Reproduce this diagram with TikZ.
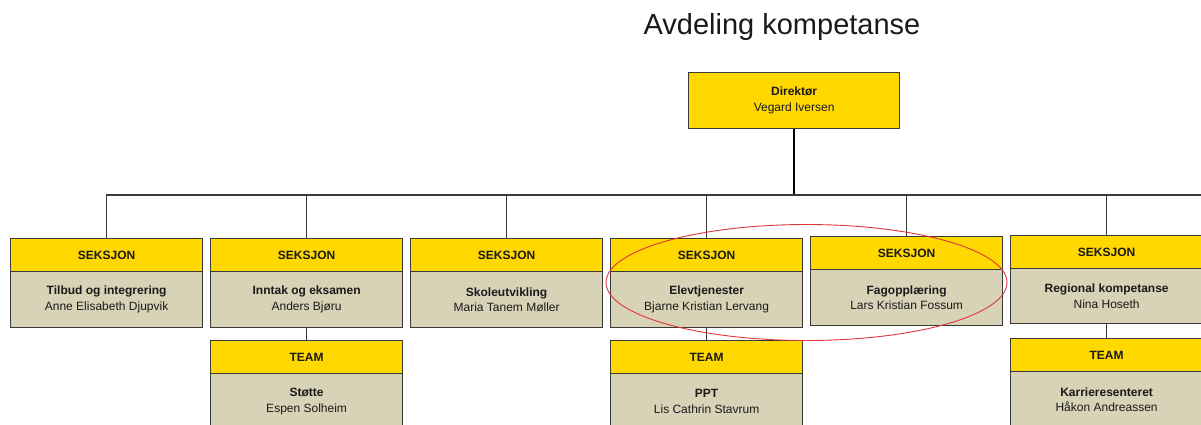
\documentclass[tikz,border=0pt]{standalone}
\usepackage{fontspec}
\setmainfont{Liberation Sans}
\definecolor{hdrY}{HTML}{FFD800}
\definecolor{bodyT}{HTML}{D8D2B7}
\definecolor{edge}{HTML}{3A3A3A}
\definecolor{ink}{HTML}{1A1A1A}
\definecolor{ringred}{HTML}{E0353A}
\tikzset{
  boxbase/.style={draw=edge, line width=1.2pt, inner sep=0pt, anchor=north west, text=ink,
     align=center, font=\fontsize{12}{15.5}\selectfont},
  hdr/.style={boxbase, fill=hdrY, minimum width=192pt, minimum height=33pt},
  bdy/.style={boxbase, fill=bodyT, minimum width=192pt, minimum height=56pt},
  conn/.style={draw=edge, line width=1.3pt},
  stem/.style={draw=black, line width=2pt},
  ring/.style={draw=ringred, line width=0.9pt},
}
\begin{document}
\begin{tikzpicture}[x=1pt,y=-1pt]
\clip (0,0) rectangle (1201,424);
\fill[white] (0,0) rectangle (1201,424);
% title
\node[font=\fontsize{29}{34}\selectfont, text=ink] (title) at (782,27) {Avdeling kompetanse};
% director
\node[boxbase, fill=hdrY, minimum width=211pt, minimum height=56pt] (dir) at (688,72)
  {\textbf{Direktør}\\Vegard Iversen};
% sections
\node[hdr] (h1) at (10,238) {\textbf{SEKSJON}};
\node[bdy] (b1) at (10,271) {\textbf{Tilbud og integrering}\\Anne Elisabeth Djupvik};
\node[hdr] (h2) at (210,238) {\textbf{SEKSJON}};
\node[bdy] (b2) at (210,271) {\textbf{Inntak og eksamen}\\Anders Bjøru};
\node[hdr] (h3) at (410,238) {\textbf{SEKSJON}};
\node[bdy] (b3) at (410,271) {\textbf{Skoleutvikling}\\Maria Tanem Møller};
\node[hdr] (h4) at (610,238) {\textbf{SEKSJON}};
\node[bdy] (b4) at (610,271) {\textbf{Elevtjenester}\\Bjarne Kristian Lervang};
\node[hdr] (h5) at (810,236) {\textbf{SEKSJON}};
\node[bdy] (b5) at (810,269) {\textbf{Fagopplæring}\\Lars Kristian Fossum};
\node[hdr] (h6) at (1010,235) {\textbf{SEKSJON}};
\node[bdy, minimum height=55pt] (b6) at (1010,268) {\textbf{Regional kompetanse}\\Nina Hoseth};
% teams
\node[hdr] (t2h) at (210,340) {\textbf{TEAM}};
\node[bdy] (t2b) at (210,373) {\textbf{Støtte}\\Espen Solheim};
\node[hdr] (t4h) at (610,340) {\textbf{TEAM}};
\node[bdy] (t4b) at (610,373) {\textbf{PPT}\\Lis Cathrin Stavrum};
\node[hdr] (t6h) at (1010,338) {\textbf{TEAM}};
\node[bdy] (t6b) at (1010,371) {\textbf{Karrieresenteret}\\Håkon Andreassen};
% connectors
\coordinate (busL) at (106,195);
\coordinate (busR) at (1205,195);
\draw[stem] (dir.south) -- (dir.south |- busL);
\draw[conn] (busL) -- (busR);
\foreach \h in {h1,h2,h3,h4,h5,h6} {
  \draw[conn] (\h.north |- busL) -- (\h.north);
}
\draw[conn] (b2.south) -- (t2h.north);
\draw[conn] (b4.south) -- (t4h.north);
\draw[conn] (b6.south) -- (t6h.north);
% highlight ring
\draw[ring] (806.5,282.5) ellipse [x radius=200.5, y radius=58];
\end{tikzpicture}
\end{document}
